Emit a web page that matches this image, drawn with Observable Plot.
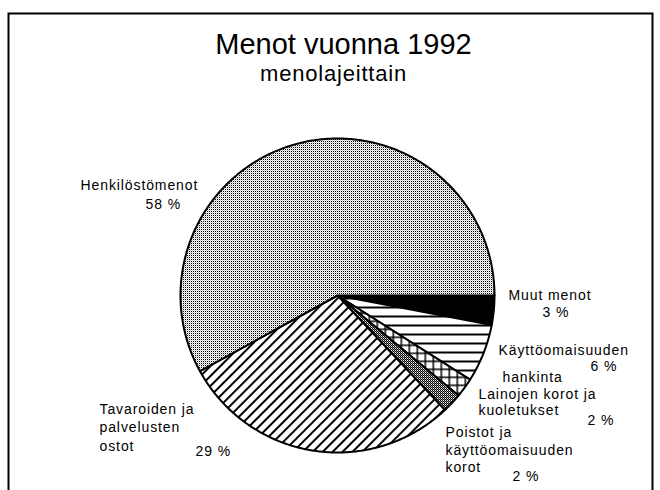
<!DOCTYPE html>
<html><head><meta charset="utf-8">
<script src="https://cdn.jsdelivr.net/npm/d3@7"></script>
<script src="https://cdn.jsdelivr.net/npm/@observablehq/plot@0.6"></script>
<style>
html,body{margin:0;padding:0;background:#fff;}
#chart svg{display:block;}
.lbl text{letter-spacing:0.9px;}
.subt text{letter-spacing:0.8px;}
</style></head><body><div id="chart"></div>
<script>
// ---- data ----
const titleText = "Menot vuonna 1992";
const subtitleText = "menolajeittain";
const categories = [
  "Muut menot",
  "Käyttöomaisuuden hankinta",
  "Lainojen korot ja kuoletukset",
  "Poistot ja käyttöomaisuuden korot",
  "Tavaroiden ja palvelusten ostot",
  "Henkilöstömenot"
];
const shares = [3, 6, 2, 2, 29, 58];
const sliceFills = ["#000", "url(#p-hlines)", "url(#p-grid)", "url(#p-darkdots)", "url(#p-diag)", "url(#p-lightdots)"];
const labelLines = [
  ["Muut menot"],
  ["Käyttöomaisuuden", "hankinta"],
  ["Lainojen korot ja", "kuoletukset"],
  ["Poistot ja", "käyttöomaisuuden", "korot"],
  ["Tavaroiden ja", "palvelusten", "ostot"],
  ["Henkilöstömenot"]
];
// ---- layout (positions in px) ----
const lineX = [[508], [498, 502], [478, 478], [445, 445, 445], [99, 99, 99], [80]];
const lineY = [[299], [354, 381], [398, 414], [436, 454, 471], [413, 431, 450], [189]];
const pctX = [542, 590, 587, 512, 195, 145];
const pctY = [316, 370, 424, 480, 455, 208];
const cx = 337, cy = 295, r = 157;

const arcs = d3.pie().sort(null).startAngle(Math.PI / 2).endAngle(Math.PI / 2 + 2 * Math.PI)(shares);
const slicePts = [];
arcs.forEach((a, i) => {
  const name = categories[i], fill = sliceFills[i];
  slicePts.push({name, fill, x: cx, y: cy});
  const n = Math.max(2, Math.ceil((a.endAngle - a.startAngle) / (Math.PI / 360)));
  for (let k = 0; k <= n; k++) {
    const t = a.startAngle + (a.endAngle - a.startAngle) * k / n;
    slicePts.push({name, fill, x: cx + r * Math.sin(t), y: cy - r * Math.cos(t)});
  }
  slicePts.push({name, fill, x: cx, y: cy});
});

const nameRows = [];
labelLines.forEach((lines, i) => lines.forEach((t, j) => nameRows.push({text: t, x: lineX[i][j], y: lineY[i][j]})));
const pctRows = shares.map((v, i) => ({text: `${v} %`, x: pctX[i], y: pctY[i]}));

const chart = Plot.plot({
  width: 660, height: 490, margin: 0,
  x: {domain: [0, 660], range: [0, 660], axis: null},
  y: {domain: [0, 490], range: [0, 490], axis: null},
  color: {type: "identity"},
  style: {fontFamily: "'Liberation Sans', Arial, sans-serif", background: "white", color: "black"},
  marks: [
    Plot.frame({insetLeft: 8, insetTop: 13, insetRight: 8, insetBottom: -10, stroke: "black", strokeWidth: 2}),
    Plot.line(slicePts, {x: "x", y: "y", z: "name", fill: "fill", stroke: "black", strokeWidth: 2, strokeLinejoin: "round"}),
    Plot.text([titleText], {frameAnchor: "top", dx: 13, dy: 53, lineAnchor: "bottom", fontSize: 29, fill: "black"}),
    Plot.text([subtitleText], {frameAnchor: "top", dx: 3, dy: 80, lineAnchor: "bottom", fontSize: 22, fill: "black", className: "subt"}),
    Plot.text(nameRows, {x: "x", y: "y", text: "text", textAnchor: "start", lineAnchor: "bottom", fontSize: 14, fill: "black", className: "lbl"}),
    Plot.text(pctRows, {x: "x", y: "y", text: "text", textAnchor: "start", lineAnchor: "bottom", fontSize: 14, fill: "black", className: "lbl"})
  ]
});

d3.select(chart).insert("defs", ":first-child").html(`
<pattern id="p-lightdots" patternUnits="userSpaceOnUse" x="0.5" y="0.5" width="2" height="2">
  <rect width="2" height="2" fill="#fff"/><rect width="1" height="1" fill="#000"/><rect x="1" y="1" width="1" height="1" fill="#c8c8c8"/>
</pattern>
<pattern id="p-darkdots" patternUnits="userSpaceOnUse" x="0.5" y="0.5" width="2" height="2">
  <rect width="2" height="2" fill="#fff"/><rect width="1" height="1" fill="#000"/><rect x="1" y="1" width="1" height="1" fill="#000"/><rect x="1" y="0" width="1" height="1" fill="#888"/>
</pattern>
<pattern id="p-grid" patternUnits="userSpaceOnUse" width="8" height="8">
  <rect width="8" height="8" fill="#fff"/><path d="M0 0.75H8M0.75 0V8" stroke="#000" stroke-width="1.5"/>
</pattern>
<pattern id="p-hlines" patternUnits="userSpaceOnUse" width="10" height="9">
  <rect width="10" height="9" fill="#fff"/><path d="M0 1H10" stroke="#000" stroke-width="2"/>
</pattern>
<pattern id="p-diag" patternUnits="userSpaceOnUse" width="7" height="7" patternTransform="rotate(45)">
  <rect width="7" height="7" fill="#fff"/><path d="M1 0V7" stroke="#000" stroke-width="2"/>
</pattern>`);

document.getElementById("chart").appendChild(chart);
</script></body></html>
